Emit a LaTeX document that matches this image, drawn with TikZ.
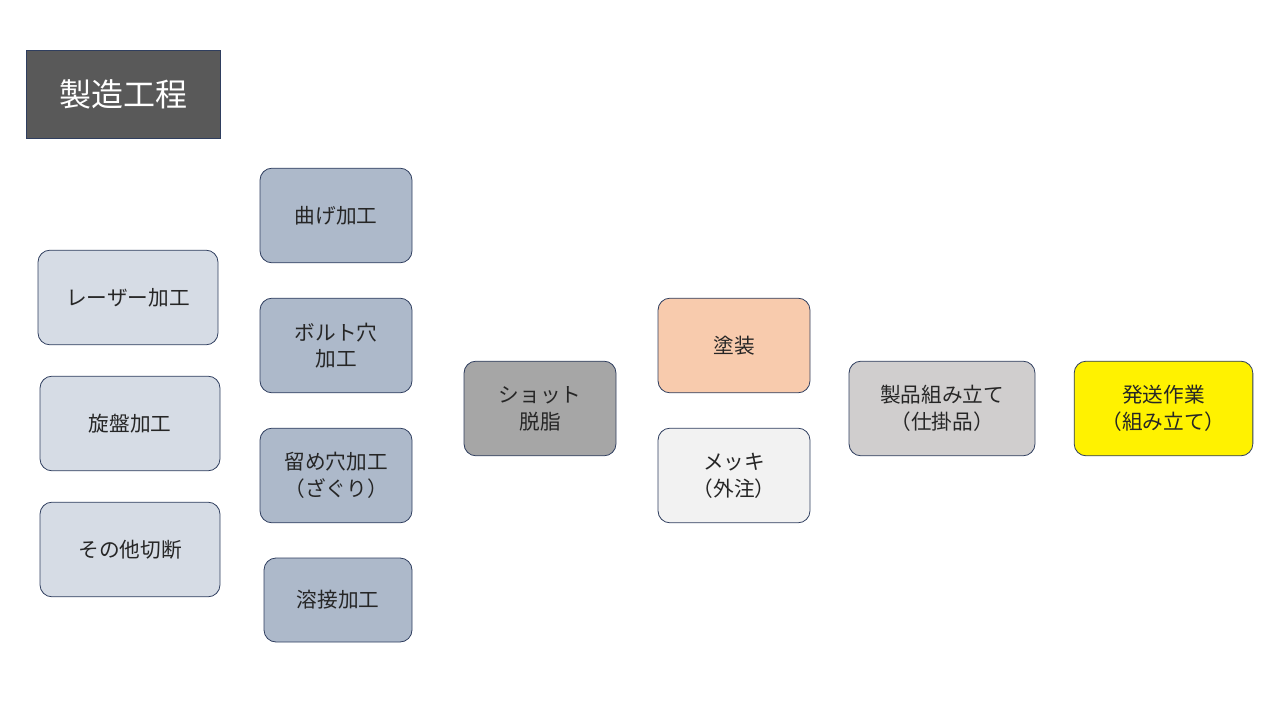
\documentclass[tikz,border=0pt]{standalone}
\usepackage{fontspec}
\setmainfont{Noto Sans CJK JP}
\definecolor{edge}{HTML}{2F3E5F}
\definecolor{cA}{HTML}{D6DCE5}
\definecolor{cB}{HTML}{ADB9CA}
\definecolor{cC}{HTML}{A6A6A6}
\definecolor{cD}{HTML}{F8CBAD}
\definecolor{cE}{HTML}{F2F2F2}
\definecolor{cF}{HTML}{D0CECE}
\definecolor{cT}{HTML}{595959}
\begin{document}
\begin{tikzpicture}[x=0.75pt,y=-0.75pt,
  box/.style={draw=edge,line width=0.6pt,rounded corners=9pt,align=center,inner sep=0pt,font=\fontsize{15.5}{20}\selectfont,text=black!85}]
\useasboundingbox (0,0) rectangle (1280,720);
\node[draw=edge,fill=cT,text=white,minimum width=145.5pt,minimum height=66pt,font=\fontsize{24}{28}\selectfont] (t) at (123,94) {製造工程};
\node[box,fill=cA,minimum width=135pt,minimum height=71pt] (a1) at (128,297.5) {レーザー加工};
\node[box,fill=cA,minimum width=135pt,minimum height=71pt] (a2) at (130,423.5) {旋盤加工};
\node[box,fill=cA,minimum width=135pt,minimum height=71pt] (a3) at (130,549.5) {その他切断};
\node[box,fill=cB,minimum width=114pt,minimum height=71pt] (b1) at (336,215.5) {曲げ加工};
\node[box,fill=cB,minimum width=114pt,minimum height=71pt] (b2) at (336,345.5) {ボルト穴\\加工};
\node[box,fill=cB,minimum width=114pt,minimum height=71pt] (b3) at (336,475.5) {留め穴加工\\（ざぐり）};
\node[box,fill=cB,minimum width=111pt,minimum height=63pt] (b4) at (338,600) {溶接加工};
\node[box,fill=cC,minimum width=114pt,minimum height=71pt] (c) at (540,408.5) {ショット\\脱脂};
\node[box,fill=cD,minimum width=114pt,minimum height=71pt] (d1) at (734,345.5) {塗装};
\node[box,fill=cE,minimum width=114pt,minimum height=71pt] (d2) at (734,475.5) {メッキ\\（外注）};
\node[box,fill=cF,minimum width=139.5pt,minimum height=71pt] (e) at (942,408.5) {製品組み立て\\（仕掛品）};
\node[box,fill=yellow,minimum width=134pt,minimum height=71pt] (f) at (1163.5,408.5) {発送作業\\（組み立て）};
\end{tikzpicture}
\end{document}
